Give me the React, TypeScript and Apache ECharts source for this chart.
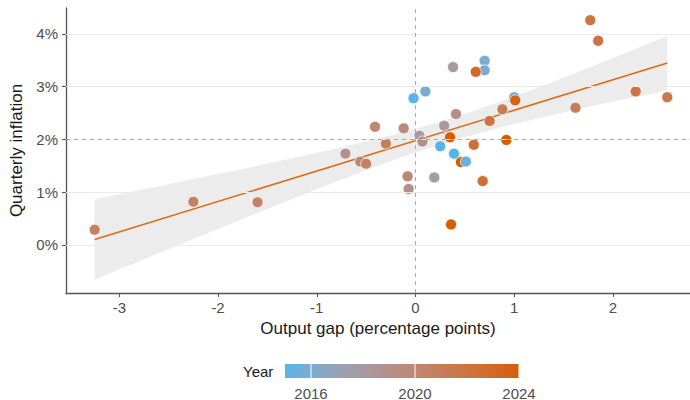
import React, { useEffect, useRef } from "react";
import * as echarts from "echarts";

// Output gap (percentage points), quarterly inflation (%), year (for colour)
const outputGap = [
  0.38, 0.70, 0.70, 0.61, -0.02, 0.10, 1.00, 1.01, 0.88, 0.41,
  0.75, 0.29, -0.41, -0.12, 0.04, 0.07, 0.35, 0.92, 0.59, -0.30,
  0.25, -0.71, 0.39, 0.46, 0.51, -0.56, -0.50, -0.08, -0.07, 0.19,
  0.68, 0.36, 1.77, 1.85, 2.23, 2.55, 1.62, -3.25, -2.25, -1.60,
];
const inflation = [
  3.37, 3.49, 3.31, 3.28, 2.78, 2.91, 2.80, 2.74, 2.57, 2.48,
  2.35, 2.26, 2.24, 2.21, 2.07, 1.96, 2.04, 1.99, 1.90, 1.92,
  1.87, 1.73, 1.73, 1.57, 1.58, 1.58, 1.54, 1.30, 1.06, 1.28,
  1.21, 0.39, 4.26, 3.87, 2.91, 2.80, 2.60, 0.29, 0.82, 0.81,
];
const years = [
  2018, 2016, 2016, 2023, 2015, 2016, 2016, 2023.5, 2021, 2019,
  2022, 2018, 2020, 2019.5, 2018, 2019, 2024, 2024, 2022.5, 2021,
  2015, 2019, 2015, 2024, 2015.5, 2020, 2020.5, 2020, 2019, 2017.5,
  2022.5, 2024, 2022, 2022, 2022, 2021.5, 2021, 2020.5, 2020.5, 2020.5,
];
const xTicks = [-3, -2, -1, 0, 1, 2];
const yTicks = [0, 1, 2, 3, 4];
const yearTicks = [2016, 2020, 2024];
const YEAR_MIN = 2015;
const YEAR_MAX = 2024;
const LOW_COLOR = "#56B4E9";
const HIGH_COLOR = "#D55E00";
const T_CRIT = 2.0244; // t(0.975, df = 38)

// ---- Lab colour interpolation (like ggplot's gradient) ----
function hexToRgb(h: string) {
  const n = parseInt(h.slice(1), 16);
  return [(n >> 16) & 255, (n >> 8) & 255, n & 255];
}
const WX = 0.95047, WY = 1.0, WZ = 1.08883;
function toLin(c: number) { c /= 255; return c <= 0.04045 ? c / 12.92 : Math.pow((c + 0.055) / 1.055, 2.4); }
function fromLin(c: number) { const v = c <= 0.0031308 ? 12.92 * c : 1.055 * Math.pow(c, 1 / 2.4) - 0.055; return Math.max(0, Math.min(255, Math.round(v * 255))); }
function f(t: number) { return t > 0.008856 ? Math.cbrt(t) : 7.787 * t + 16 / 116; }
function finv(t: number) { return t * t * t > 0.008856 ? t * t * t : (t - 16 / 116) / 7.787; }
function rgbToLab(rgb: number[]) {
  const [r, g, b] = rgb.map(toLin);
  const X = (0.4124 * r + 0.3576 * g + 0.1805 * b) / WX;
  const Y = (0.2126 * r + 0.7152 * g + 0.0722 * b) / WY;
  const Z = (0.0193 * r + 0.1192 * g + 0.9505 * b) / WZ;
  const fx = f(X), fy = f(Y), fz = f(Z);
  return [116 * fy - 16, 500 * (fx - fy), 200 * (fy - fz)];
}
function labToRgb(lab: number[]) {
  const fy = (lab[0] + 16) / 116;
  const fx = fy + lab[1] / 500;
  const fz = fy - lab[2] / 200;
  const X = finv(fx) * WX, Y = finv(fy) * WY, Z = finv(fz) * WZ;
  const r = 3.2406 * X - 1.5372 * Y - 0.4986 * Z;
  const g = -0.9689 * X + 1.8758 * Y + 0.0415 * Z;
  const b = 0.0557 * X - 0.204 * Y + 1.057 * Z;
  return [fromLin(r), fromLin(g), fromLin(b)];
}
const LAB_LO = rgbToLab(hexToRgb(LOW_COLOR));
const LAB_HI = rgbToLab(hexToRgb(HIGH_COLOR));
function yearColor(y: number) {
  const t = Math.max(0, Math.min(1, (y - YEAR_MIN) / (YEAR_MAX - YEAR_MIN)));
  const lab = LAB_LO.map((v, i) => v + (LAB_HI[i] - v) * t);
  const [r, g, b] = labToRgb(lab);
  return `rgb(${r},${g},${b})`;
}

// ---- OLS fit with 95% confidence band ----
const n = outputGap.length;
const mx = outputGap.reduce((a, b) => a + b, 0) / n;
const my = inflation.reduce((a, b) => a + b, 0) / n;
let sxx = 0, sxy = 0;
for (let i = 0; i < n; i++) {
  sxx += (outputGap[i] - mx) ** 2;
  sxy += (outputGap[i] - mx) * (inflation[i] - my);
}
const slope = sxy / sxx;
const intercept = my - slope * mx;
let sse = 0;
for (let i = 0; i < n; i++) sse += (inflation[i] - intercept - slope * outputGap[i]) ** 2;
const sigma = Math.sqrt(sse / (n - 2));
const xLo = Math.min(...outputGap);
const xHi = Math.max(...outputGap);
const fit = (x: number) => intercept + slope * x;
const half = (x: number) => T_CRIT * sigma * Math.sqrt(1 / n + (x - mx) ** 2 / sxx);

// colour bar geometry (legend)
const BAR_X = 285, BAR_Y = 364, BAR_W = 234, BAR_H = 14;
const yearToPx = (y: number) => BAR_X + ((y - YEAR_MIN) / (YEAR_MAX - YEAR_MIN)) * BAR_W;

const FONT = "'Liberation Sans', Arial, Helvetica, sans-serif";

export default function App() {
  const ref = useRef<HTMLDivElement>(null);
  useEffect(() => {
    document.body.style.margin = "0";
    const chart = echarts.init(ref.current!, null, { renderer: "svg" });
    const stops = [];
    for (let i = 0; i <= 20; i++) {
      stops.push({ offset: i / 20, color: yearColor(YEAR_MIN + (i / 20) * (YEAR_MAX - YEAR_MIN)) });
    }
    const legendGraphics: any[] = [
      {
        type: "text",
        left: 243,
        top: 364,
        style: { text: "Year", font: `15px ${FONT}`, fill: "#1A1A1A" },
      },
      {
        type: "rect",
        shape: { x: BAR_X, y: BAR_Y, width: BAR_W, height: BAR_H },
        style: { fill: { type: "linear", x: 0, y: 0, x2: 1, y2: 0, colorStops: stops } },
      },
    ];
    yearTicks.forEach((yr) => {
      const px = yearToPx(yr);
      legendGraphics.push({
        type: "line",
        shape: { x1: px, y1: BAR_Y, x2: px, y2: BAR_Y + BAR_H },
        style: { stroke: "#ffffff", lineWidth: 1 },
      });
      legendGraphics.push({
        type: "text",
        x: px,
        y: 393,
        style: {
          text: String(yr),
          font: `15px ${FONT}`,
          fill: "#4D4D4D",
          align: "center",
          verticalAlign: "middle",
        },
      });
    });

    chart.setOption({
      animation: false,
      grid: { left: 66, right: 0, top: 8, bottom: 107, containLabel: false, outerBoundsMode: "none" },
      xAxis: {
        type: "value",
        min: -3.54,
        max: 2.78,
        axisLine: { show: true, onZero: false, lineStyle: { color: "#555555", width: 1.3 } },
        axisTick: { show: true, length: 4, customValues: xTicks, lineStyle: { color: "#555555", width: 1 } },
        axisLabel: { customValues: xTicks, fontSize: 15, color: "#4D4D4D", margin: 7, fontFamily: FONT },
        splitLine: { show: false },
        name: "Output gap (percentage points)",
        nameLocation: "middle",
        nameGap: 27,
        nameTextStyle: { fontSize: 17, color: "#1A1A1A", fontFamily: FONT },
      },
      yAxis: {
        type: "value",
        min: -0.91,
        max: 4.49,
        axisLine: { show: true, onZero: false, lineStyle: { color: "#555555", width: 1.3 } },
        axisTick: { show: true, length: 4, customValues: yTicks, lineStyle: { color: "#555555", width: 1 } },
        axisLabel: {
          customValues: yTicks,
          fontSize: 15,
          color: "#4D4D4D",
          margin: 8,
          fontFamily: FONT,
          formatter: (v: number) => `${v}%`,
        },
        splitLine: { show: false },
        name: "Quarterly inflation",
        nameLocation: "middle",
        nameGap: 40,
        nameTextStyle: { fontSize: 17, color: "#1A1A1A", fontFamily: FONT },
      },
      graphic: legendGraphics,
      series: [
        {
          type: "line",
          data: [],
          z: 1,
          silent: true,
          markLine: {
            silent: true,
            symbol: "none",
            label: { show: false },
            data: [
              ...yTicks.map((t) => ({ yAxis: t, lineStyle: { color: "#EBEBEB", width: 1.2, type: "solid" } })),
              { yAxis: 2, lineStyle: { color: "#AAAAAA", width: 1, type: [4, 4] } },
              { xAxis: 0, lineStyle: { color: "#AAAAAA", width: 1, type: [4, 4] } },
            ],
          },
        },
        {
          type: "custom",
          z: 2,
          silent: true,
          data: [[xLo, fit(xLo)]],
          renderItem: (_params: any, api: any) => {
            const upper: number[][] = [];
            const lower: number[][] = [];
            const steps = 80;
            for (let i = 0; i <= steps; i++) {
              const x = xLo + ((xHi - xLo) * i) / steps;
              upper.push(api.coord([x, fit(x) + half(x)]));
              lower.push(api.coord([x, fit(x) - half(x)]));
            }
            return {
              type: "polygon",
              shape: { points: upper.concat(lower.reverse()) },
              style: { fill: "rgba(180,180,180,0.25)" },
            };
          },
        },
        {
          type: "line",
          z: 3,
          silent: true,
          symbol: "none",
          data: [[xLo, fit(xLo)], [xHi, fit(xHi)]],
          lineStyle: { color: "#DF6A14", width: 1.6 },
        },
        {
          type: "scatter",
          z: 4,
          symbolSize: 11,
          data: outputGap.map((x, i) => [x, inflation[i], years[i]]),
          itemStyle: {
            color: (p: any) => yearColor(p.value[2]),
            borderColor: "#ffffff",
            borderWidth: 0.7,
            opacity: 1,
          },
        },
      ],
    });
    return () => chart.dispose();
  }, []);
  return (
    <div
      ref={ref}
      style={{ width: 690, height: 400, position: "absolute", left: 0, top: 0 }}
    />
  );
}
